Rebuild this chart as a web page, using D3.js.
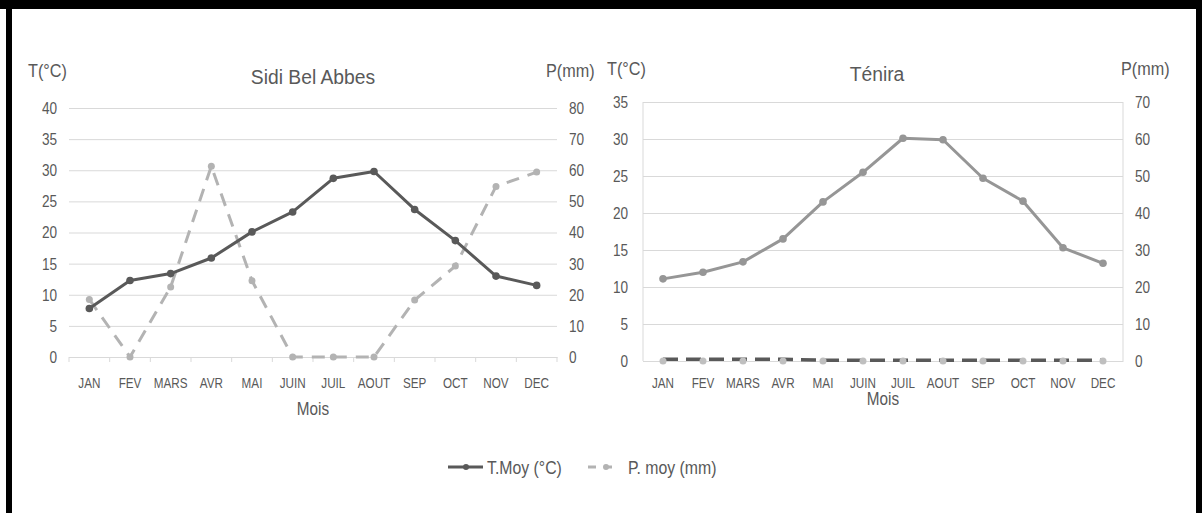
<!DOCTYPE html>
<html>
<head>
<meta charset="utf-8">
<script src="https://cdn.jsdelivr.net/npm/d3@7"></script>
<style>
  body { margin: 0; background: #fff; }
  text { font-family: "Liberation Sans Narrow", "Arial Narrow", "Liberation Sans", Arial, sans-serif; fill: #595959; }
</style>
</head>
<body>
<svg id="chart" width="1202" height="513"></svg>
<script>
var months = ["JAN", "FEV", "MARS", "AVR", "MAI", "JUIN", "JUIL", "AOUT", "SEP", "OCT", "NOV", "DEC"];

// Sidi Bel Abbes
var tempSBA = [7.8, 12.3, 13.4, 15.9, 20.1, 23.3, 28.7, 29.8, 23.7, 18.7, 13.0, 11.5];
var precSBA = [18.5, 0, 22.5, 61.3, 24.5, 0, 0, 0, 18.3, 29.2, 54.8, 59.4];
var tTicksSBA = [0, 5, 10, 15, 20, 25, 30, 35, 40];
var pTicksSBA = [0, 10, 20, 30, 40, 50, 60, 70, 80];

// Ténira
var tempTen = [11.1, 12.0, 13.4, 16.5, 21.5, 25.5, 30.1, 29.9, 24.7, 21.6, 15.3, 13.2];
var precTen = [0.5, 0.5, 0.5, 0.5, 0.2, 0.2, 0.2, 0.2, 0.2, 0.2, 0.2, 0.2];
var precTenPts = [0, 0, 0, 0, 0, 0, 0, 0, 0, 0, 0, 0];
var tTicksTen = [0, 5, 10, 15, 20, 25, 30, 35];
var pTicksTen = [0, 10, 20, 30, 40, 50, 60, 70];

var svg = d3.select("#chart");

// the fonts of the picture are condensed: squeeze text horizontally around its x
function narrow(sel, s) {
  sel.each(function() {
    var t = d3.select(this);
    var x = +t.attr("x") || 0;
    t.attr("transform", "translate(" + x + ",0) scale(" + s + ",1) translate(" + (-x) + ",0)");
  });
}

// black frame of the scanned figure
svg.append("rect").attr("x", 0).attr("y", 0).attr("width", 1202).attr("height", 9).attr("fill", "#000");
svg.append("rect").attr("x", 6).attr("y", 0).attr("width", 6).attr("height", 513).attr("fill", "#000");
svg.append("rect").attr("x", 1196).attr("y", 0).attr("width", 6).attr("height", 513).attr("fill", "#000");

function drawPanel(o) {
  var x = d3.scaleBand().domain(months).range([o.left, o.right]);
  var y = d3.scaleLinear().domain([0, o.tMax]).range([o.bottom, o.top]);
  var y2 = d3.scaleLinear().domain([0, o.pMax]).range([o.bottom, o.top]);
  var g = svg.append("g");

  // gridlines
  g.append("g")
    .attr("transform", "translate(" + o.left + ",0)")
    .call(d3.axisLeft(y).tickValues(o.tTicks).tickSize(-(o.right - o.left)).tickFormat(""))
    .call(function(s) { s.select(".domain").remove(); })
    .selectAll("line").attr("stroke", "#d9d9d9");

  if (o.box) {
    g.append("line").attr("x1", o.left).attr("x2", o.left).attr("y1", o.top).attr("y2", o.bottom).attr("stroke", "#d9d9d9");
    g.append("line").attr("x1", o.right).attr("x2", o.right).attr("y1", o.top).attr("y2", o.bottom).attr("stroke", "#d9d9d9");
  }

  // left axis labels
  var la = g.append("g")
    .attr("transform", "translate(" + o.leftLab + ",0)")
    .call(d3.axisLeft(y).tickValues(o.tTicks).tickSize(0).tickPadding(0))
    .call(function(s) { s.select(".domain").remove(); });
  la.selectAll("text").style("font-size", "17px").attr("fill", "#595959").call(narrow, 0.8);

  // right axis labels
  var ra = g.append("g")
    .attr("transform", "translate(" + o.rightLab + ",0)")
    .call(d3.axisRight(y2).tickValues(o.pTicks).tickSize(0).tickPadding(0))
    .call(function(s) { s.select(".domain").remove(); });
  ra.selectAll("text").style("font-size", "17px").attr("fill", "#595959").call(narrow, 0.8);

  // x axis
  var xa = g.append("g")
    .attr("transform", "translate(0," + o.bottom + ")")
    .call(d3.axisBottom(x).tickSize(0).tickPadding(o.labPad));
  xa.select(".domain").attr("stroke", "#d9d9d9");
  xa.selectAll("text").style("font-size", "15px").attr("fill", "#595959").call(narrow, 0.78);
  if (o.ticks) {
    var edges = months.map(function(m) { return x(m); }).concat([o.right]);
    g.selectAll(null).data(edges).enter().append("line")
      .attr("x1", function(d) { return d; }).attr("x2", function(d) { return d; })
      .attr("y1", o.bottom).attr("y2", o.bottom + 5)
      .attr("stroke", "#d9d9d9");
  }

  var cx = function(d, i) { return x(months[i]) + x.bandwidth() / 2; };

  // precipitation
  var pLine = d3.line().x(cx).y(function(d) { return y2(d); });
  g.append("path").datum(o.prec)
    .attr("d", pLine).attr("fill", "none")
    .attr("stroke", o.pColor).attr("stroke-width", o.pWidth)
    .attr("stroke-dasharray", o.pDash);
  g.selectAll(null).data(o.precPts).enter().append("circle")
    .attr("cx", cx).attr("cy", function(d) { return y2(d); })
    .attr("r", 3.5).attr("fill", o.pDot);

  // temperature
  var tLine = d3.line().x(cx).y(function(d) { return y(d); });
  g.append("path").datum(o.temp)
    .attr("d", tLine).attr("fill", "none")
    .attr("stroke", o.tColor).attr("stroke-width", 3)
    .attr("stroke-linejoin", "round");
  g.selectAll(null).data(o.temp).enter().append("circle")
    .attr("cx", cx).attr("cy", function(d) { return y(d); })
    .attr("r", 3.8).attr("fill", o.tColor);

  // titles
  g.append("text").attr("x", o.titleX).attr("y", o.titleY).attr("text-anchor", "middle")
    .style("font-size", "21px").text(o.title).call(narrow, 0.92);
  g.append("text").attr("x", o.tLabX).attr("y", o.unitY).style("font-size", "18px").text("T(°C)").call(narrow, 0.9);
  g.append("text").attr("x", o.pLabX).attr("y", o.unitY).style("font-size", "18px").text("P(mm)").call(narrow, 0.9);
  g.append("text").attr("x", (o.left + o.right) / 2).attr("y", o.moisY).attr("text-anchor", "middle")
    .style("font-size", "18px").text("Mois").call(narrow, 0.85);
}

drawPanel({
  left: 69, right: 557, top: 108, bottom: 357, tMax: 40, pMax: 80,
  tTicks: tTicksSBA, pTicks: pTicksSBA, leftLab: 57, rightLab: 569,
  box: false, ticks: true, labPad: 20,
  temp: tempSBA, prec: precSBA, precPts: precSBA,
  tColor: "#595959", pColor: "#b3b3b3", pDot: "#b3b3b3", pWidth: 3, pDash: "13,9",
  title: "Sidi Bel Abbes", titleX: 313, titleY: 84,
  tLabX: 28, pLabX: 546, unitY: 77, moisY: 415
});

drawPanel({
  left: 643, right: 1123, top: 102, bottom: 361, tMax: 35, pMax: 70,
  tTicks: tTicksTen, pTicks: pTicksTen, leftLab: 628, rightLab: 1135,
  box: true, ticks: false, labPad: 16,
  temp: tempTen, prec: precTen, precPts: precTenPts,
  tColor: "#969696", pColor: "#595959", pDot: "#bfbfbf", pWidth: 3.5, pDash: "15,8",
  title: "Ténira", titleX: 877, titleY: 81,
  tLabX: 607, pLabX: 1121, unitY: 75, moisY: 405
});

// legend
var lg = svg.append("g");
lg.append("line").attr("x1", 448).attr("x2", 483).attr("y1", 467).attr("y2", 467)
  .attr("stroke", "#595959").attr("stroke-width", 3);
lg.append("circle").attr("cx", 466).attr("cy", 467).attr("r", 3).attr("fill", "#595959");
lg.append("text").attr("x", 487).attr("y", 474).style("font-size", "18px").text("T.Moy (°C)").call(narrow, 0.88);
lg.append("line").attr("x1", 588).attr("x2", 620).attr("y1", 467).attr("y2", 467)
  .attr("stroke", "#b3b3b3").attr("stroke-width", 3).attr("stroke-dasharray", "8,8");
lg.append("circle").attr("cx", 606).attr("cy", 467).attr("r", 3).attr("fill", "#b3b3b3");
lg.append("text").attr("x", 628).attr("y", 474).style("font-size", "18px").text("P. moy (mm)").call(narrow, 0.88);
</script>
</body>
</html>
